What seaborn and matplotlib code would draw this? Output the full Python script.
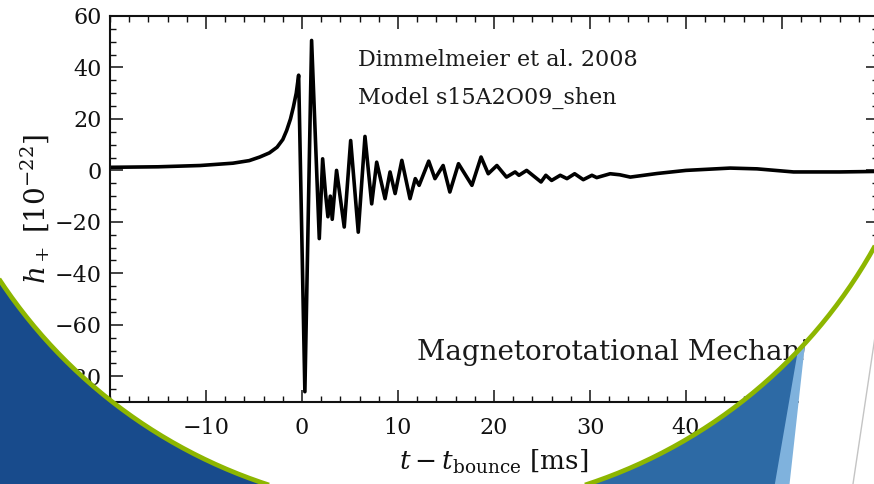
import numpy as np
import pandas as pd
import matplotlib
matplotlib.use("Agg")
import matplotlib.pyplot as plt
import seaborn as sns
from matplotlib.patches import Polygon
from matplotlib.ticker import MultipleLocator

# Gravitational-wave strain h+ of a rotating core collapse around bounce
t_ms = [-20, -15, -10.6, -7.2, -5.5, -4.4, -3.4, -2.6, -2.0, -1.6, -1.2, -0.9,
        -0.6, -0.35, 0.3, 1.0, 1.8, 2.15, 2.45, 2.7, 2.95, 3.15, 3.6, 4.4,
        5.07, 5.86, 6.56, 7.26, 7.78, 8.65, 9.17, 9.7, 10.4, 11.25, 11.8,
        12.2, 13.2, 13.85, 14.7, 15.4, 16.3, 17.7, 18.65, 19.4, 20.3, 21.3,
        22.2, 22.6, 23.4, 24.9, 25.4, 26.0, 26.9, 27.6, 28.4, 29.3, 30.2,
        30.7, 32.1, 33.1, 34.2, 37.0, 40.0, 44.6, 47.4, 51.2, 56.0, 60.0]
h_plus = [1.2, 1.4, 1.9, 2.8, 3.8, 5.2, 6.8, 9.0, 12.0, 15.5, 20.0, 24.6,
          30.0, 37.0, -86.0, 50.5, -26.5, 4.5, -9.0, -18.0, -10.0, -19.0, 0.0,
          -22.0, 11.6, -24.0, 13.2, -13.0, 3.2, -11.0, -0.6, -9.0, 3.9, -11.0,
          -3.2, -5.8, 3.6, -3.2, 1.9, -8.4, 2.6, -5.8, 5.2, -1.3, 1.9, -2.6,
          -0.6, -1.9, 0.0, -4.5, -1.9, -3.9, -1.9, -3.2, -1.3, -3.6, -1.9,
          -2.8, -1.3, -1.7, -2.6, -1.2, 0.0, 0.9, 0.6, -0.6, -0.6, -0.4]

x_major = [-10, 0, 10, 20, 30, 40, 50]
y_major = [-80, -60, -40, -20, 0, 20, 40, 60]

sns.set_theme(style="ticks")
plt.rcParams["font.family"] = ["DejaVu Serif"]
plt.rcParams["mathtext.fontset"] = "dejavuserif"
plt.rcParams["axes.unicode_minus"] = True

W, H = 874, 484
fig = plt.figure(figsize=(W / 100, H / 100), dpi=100)
fig.patch.set_facecolor("white")

ax = fig.add_axes([110 / W, 82 / H, 768 / W, 386 / H])
df = pd.DataFrame({"t": t_ms, "h": h_plus})
sns.lineplot(data=df, x="t", y="h", color="black", lw=2.6, ax=ax,
             sort=False, estimator=None)
ax.lines[0].set_solid_joinstyle("round")

ax.set_xlim(-20, 60)
ax.set_ylim(-90, 60)
ax.set_xticks(x_major)
ax.set_yticks(y_major)
ax.xaxis.set_minor_locator(MultipleLocator(2))
ax.yaxis.set_minor_locator(MultipleLocator(5))
ax.tick_params(which="both", direction="in", top=True, right=True,
               colors="#111111", labelsize=16)
ax.tick_params(which="major", length=9, width=1.1)
ax.tick_params(which="minor", length=4.5, width=1.0)
ax.tick_params(axis="x", which="major", pad=11)
ax.tick_params(axis="y", which="major", pad=6)
for s in ax.spines.values():
    s.set_linewidth(1.5)
    s.set_color("#111111")

ax.set_xlabel(r"$t - t_{\mathrm{bounce}}$ [ms]", fontsize=19, labelpad=6,
              color="#111111")
ax.set_ylabel(r"$h_+$ [$10^{-22}$]", fontsize=20, labelpad=2,
              color="#111111")

ax.text(5.8, 40.4, "Dimmelmeier et al. 2008", fontsize=16, va="baseline",
        color="#1a1a1a")
ax.text(5.8, 26.0, "Model s15A2O09_shen", fontsize=16, va="baseline",
        color="#1a1a1a")
ax.text(12.0, -73.8, "Magnetorotational Mechanism", fontsize=20,
        va="baseline", color="#1a1a1a")

# Slide framing: white circle with green rim, blue corners outside it
ov = fig.add_axes([0, 0, 1, 1], zorder=10)
ov.set_xlim(0, W)
ov.set_ylim(H, 0)
ov.axis("off")
ov.patch.set_alpha(0)

cx, cy, r = 427.0, -2.0, 512.0


def arc(a0, a1, n=200):
    a = np.radians(np.linspace(a0, a1, n))
    return np.column_stack([cx + r * np.cos(a), cy + r * np.sin(a)])


left = np.vstack([arc(150, 108.3), [[0, H + 5], [-5, H + 5], [-5, 270]]])
ov.add_patch(Polygon(left, closed=True, fc="#184B8C", ec="none"))

outer_right = np.vstack([arc(42.4, 18), [[W + 5, 230], [W + 5, H + 5],
                                          [789, H + 5]]])
ov.add_patch(Polygon(outer_right, closed=True, fc="white", ec="none"))

right_full = np.vstack([arc(71.7, 42.4), [[789, H + 5], [588, H + 5]]])
ov.add_patch(Polygon(right_full, closed=True, fc="#7FB2DD", ec="none"))
right_dark = np.vstack([arc(71.7, 43.6), [[774, H + 5], [588, H + 5]]])
ov.add_patch(Polygon(right_dark, closed=True, fc="#2D6AA5", ec="none"))

ov.plot([876, 853], [330, H], color="#c4c4c4", lw=1.0)

rim = arc(155, 20, 400)
ov.plot(rim[:, 0], rim[:, 1], color="#8DB600", lw=3.4, solid_capstyle="butt")

fig.savefig("out.png", dpi=100, facecolor="white")
